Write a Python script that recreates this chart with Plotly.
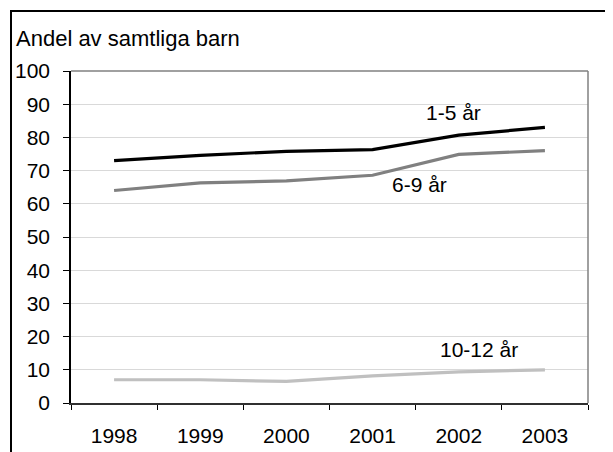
import plotly.graph_objects as go

years = ["1998", "1999", "2000", "2001", "2002", "2003"]
age_1_5 = [73.0, 74.6, 75.8, 76.3, 80.7, 83.0]
age_6_9 = [64.0, 66.3, 66.9, 68.6, 74.9, 76.0]
age_10_12 = [7.0, 7.0, 6.5, 8.2, 9.4, 10.0]
y_ticks = [0, 10, 20, 30, 40, 50, 60, 70, 80, 90, 100]

# page has an 8px body margin; figure fills the rest of the 613x452 window
OFF = 8
W, H = 613 - OFF, 452 - OFF
L, R, T, B = 63, 25, 63, 49
pw, ph = W - L - R, H - T - B

def px(x):
    return (x - OFF - L) / pw

def py(y):
    return (H - B - (y - OFF)) / ph

fig = go.Figure()
fig.add_trace(go.Scatter(x=years, y=age_10_12, mode="lines",
                         line=dict(color="#c0c0c0", width=3.2), showlegend=False))
fig.add_trace(go.Scatter(x=years, y=age_6_9, mode="lines",
                         line=dict(color="#808080", width=3.2), showlegend=False))
fig.add_trace(go.Scatter(x=years, y=age_1_5, mode="lines",
                         line=dict(color="#000000", width=3.2), showlegend=False))

family = "Liberation Sans, Arial, sans-serif"
font = dict(family=family, size=21, color="#000000")

fig.update_layout(
    width=W, height=H,
    margin=dict(l=L, r=R, t=T, b=B, pad=0, autoexpand=False),
    paper_bgcolor="white", plot_bgcolor="white",
    font=font,
    xaxis=dict(type="category", tickson="boundaries", ticks="outside", ticklen=5,
               tickcolor="#000000", showline=True, linecolor="#303030", linewidth=1.5,
               showgrid=False, zeroline=False, tickfont=font, ticklabelstandoff=13,
               range=[-0.5, 5.5], automargin=False),
    yaxis=dict(range=[0, 100], tickvals=y_ticks, ticks="outside", ticklen=6,
               tickcolor="#000000", showline=True, linecolor="#000000", linewidth=1.5,
               showgrid=True, gridcolor="#d9d9d9", gridwidth=1.2, zeroline=False,
               tickfont=font, ticklabelstandoff=9, automargin=False),
    shapes=[
        dict(type="line", xref="paper", yref="paper", x0=0, x1=1, y0=1, y1=1,
             line=dict(color="#808080", width=1.5)),
        dict(type="line", xref="paper", yref="paper", x0=1, x1=1, y0=0, y1=1,
             line=dict(color="#808080", width=1.5)),
        dict(type="rect", xref="paper", yref="paper", x0=px(10), x1=px(613),
             y0=py(12), y1=py(10), fillcolor="#000000", line=dict(width=0),
             layer="above"),
        dict(type="rect", xref="paper", yref="paper", x0=px(10), x1=px(12),
             y0=py(452), y1=py(10), fillcolor="#000000", line=dict(width=0),
             layer="above"),
    ],
    annotations=[
        dict(text="Andel av samtliga barn", xref="paper", yref="paper",
             x=px(14), y=py(39), xanchor="left", yanchor="middle", showarrow=False,
             font=dict(family=family, size=22, color="#000000")),
        dict(text="1-5 år", xref="x", yref="y", x=3.94, y=87.4, showarrow=False,
             xanchor="center", yanchor="middle", font=font),
        dict(text="6-9 år", xref="x", yref="y", x=3.55, y=65.7, showarrow=False,
             xanchor="center", yanchor="middle", font=font),
        dict(text="10-12 år", xref="x", yref="y", x=4.23, y=16.0, showarrow=False,
             xanchor="center", yanchor="middle", font=font),
    ],
)

fig.write_html("out.html")
